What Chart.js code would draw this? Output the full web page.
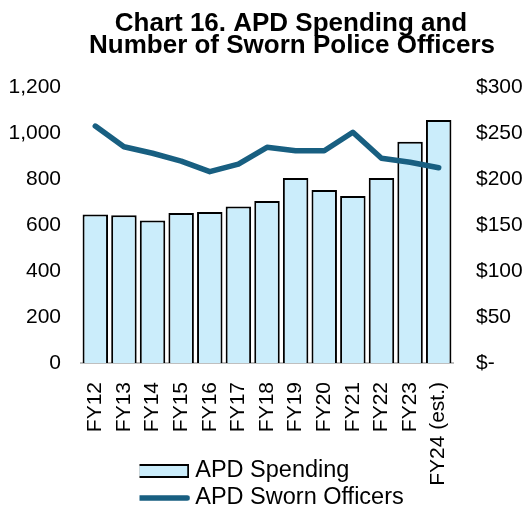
<!DOCTYPE html>
<html>
<head>
<meta charset="utf-8">
<script src="https://cdn.jsdelivr.net/npm/chart.js@4.4.1/dist/chart.umd.min.js"></script>
<style>
html,body{margin:0;padding:0;background:#fff;}
#wrap{position:relative;width:526px;height:510px;}
</style>
</head>
<body>
<div id="wrap"><canvas id="c" width="526" height="510"></canvas></div>
<script>
// ---- data ----
const categories = ['FY12','FY13','FY14','FY15','FY16','FY17','FY18','FY19','FY20','FY21','FY22','FY23','FY24 (est.)'];
const spending = [161.5, 160.5, 155, 163, 164, 170, 176, 201, 188, 181.5, 201, 240.5, 264];
const officers = [1030, 940, 912, 878, 832, 865, 938, 923, 923, 1003, 890, 873, 849];
const titleLines = ['Chart 16. APD Spending and', 'Number of Sworn Police Officers'];
const leftTicks = [0, 200, 400, 600, 800, 1000, 1200];
const rightTicks = [0, 50, 100, 150, 200, 250, 300];
const seriesNames = ['APD Spending', 'APD Sworn Officers'];

const BAR_FILL = '#cbedfb';
const LINE_COL = '#185f81';
const FONT = '"Liberation Sans", Arial, sans-serif';

function swatch(kind) {
  const cv = document.createElement('canvas');
  if (kind === 'bar') {
    cv.width = 52; cv.height = 14;
    const g = cv.getContext('2d');
    g.fillStyle = BAR_FILL; g.fillRect(1, 1, 50, 12);
    g.strokeStyle = '#000'; g.lineWidth = 2; g.strokeRect(1, 1, 50, 12);
  } else {
    cv.width = 54; cv.height = 8;
    const g = cv.getContext('2d');
    g.strokeStyle = LINE_COL; g.lineWidth = 5.5; g.lineCap = 'round';
    g.beginPath(); g.moveTo(3, 4); g.lineTo(51, 4); g.stroke();
  }
  return cv;
}
const swBar = swatch('bar');
const swLine = swatch('line');

const titlePlugin = {
  id: 'customTitle',
  afterDraw(chart) {
    const ctx = chart.ctx;
    ctx.save();
    ctx.fillStyle = '#000';
    ctx.font = 'bold 26px ' + FONT;
    ctx.textAlign = 'center';
    ctx.textBaseline = 'alphabetic';
    ctx.fillText(titleLines[0], 291, 31);
    ctx.fillText(titleLines[1], 292, 53);
    ctx.restore();
  }
};

const legendPlace = {
  id: 'legendPlace',
  afterLayout(chart) {
    const lg = chart.legend;
    if (lg) {
      const h = lg.height;
      lg.left = 139.5;
      lg.right = 453;
      lg.width = lg.right - lg.left;
      lg.top = 455.75;
      lg.bottom = lg.top + h;
    }
    const xs = chart.scales.x;
    if (xs) { xs.bottom = 510; xs.height = xs.bottom - xs.top; }
  }
};

new Chart(document.getElementById('c'), {
  data: {
    labels: categories,
    datasets: [
      {
        type: 'bar',
        label: seriesNames[0],
        data: spending,
        yAxisID: 'y1',
        backgroundColor: BAR_FILL,
        borderColor: '#000',
        borderWidth: 2,
        barPercentage: 0.89,
        categoryPercentage: 1,
        order: 1
      },
      {
        type: 'line',
        label: seriesNames[1],
        data: officers,
        yAxisID: 'y',
        borderColor: LINE_COL,
        backgroundColor: LINE_COL,
        borderWidth: 5.5,
        pointRadius: 0,
        tension: 0,
        borderCapStyle: 'round',
        borderJoinStyle: 'round',
        order: 0
      }
    ]
  },
  options: {
    responsive: false,
    animation: false,
    devicePixelRatio: 1,
    layout: { padding: { top: 87, left: 0, right: 0, bottom: 0 } },
    plugins: {
      title: { display: false },
      tooltip: { enabled: false },
      legend: {
        display: true,
        position: 'bottom',
        align: 'start',
        fullSize: false,
        labels: {
          usePointStyle: true,
          pointStyleWidth: 40.5,
          boxHeight: 14,
          padding: 3.5,
          color: '#000',
          font: { family: FONT, size: 23.5 },
          generateLabels: (chart) => [
            { text: seriesNames[0], pointStyle: swBar, fillStyle: BAR_FILL, strokeStyle: '#000', lineWidth: 0, hidden: false, datasetIndex: 0, fontColor: '#000' },
            { text: seriesNames[1], pointStyle: swLine, fillStyle: LINE_COL, strokeStyle: LINE_COL, lineWidth: 0, hidden: false, datasetIndex: 1, fontColor: '#000' }
          ]
        }
      }
    },
    scales: {
      x: {
        type: 'category',
        grid: { display: false, drawTicks: false },
        border: { display: true, color: '#bfbfbf', width: 2 },
        ticks: {
          minRotation: 90, maxRotation: 90, autoSkip: false,
          padding: 19,
          color: '#000',
          font: { family: FONT, size: 21 }
        },
        afterFit(s) { s.height = 83; }
      },
      y: {
        position: 'left',
        min: 0, max: 1200,
        afterBuildTicks(s) { s.ticks = leftTicks.map(v => ({ value: v })); },
        grid: { display: false, drawTicks: false },
        border: { display: false },
        ticks: {
          padding: 20,
          color: '#000',
          font: { family: FONT, size: 21 },
          callback: (v) => v.toLocaleString('en-US')
        },
        afterFit(s) { s.width = 81; }
      },
      y1: {
        position: 'right',
        min: 0, max: 300,
        afterBuildTicks(s) { s.ticks = rightTicks.map(v => ({ value: v })); },
        grid: { display: false, drawTicks: false },
        border: { display: false },
        ticks: {
          padding: 23,
          color: '#000',
          font: { family: FONT, size: 21 },
          callback: (v) => v === 0 ? '$-' : '$' + v
        },
        afterFit(s) { s.width = 73; }
      }
    }
  },
  plugins: [titlePlugin, legendPlace]
});
</script>
</body>
</html>
